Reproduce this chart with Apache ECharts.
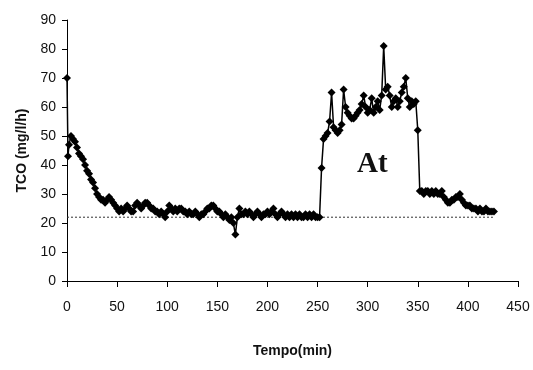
<!DOCTYPE html>
<html>
<head>
<meta charset="utf-8">
<script src="https://cdn.jsdelivr.net/npm/echarts@6/dist/echarts.min.js"></script>
<style>html,body{margin:0;padding:0;background:#fff}#c{width:533px;height:370px}</style>
</head>
<body>
<div id="c"></div>
<script>
var xTicks = [0, 50, 100, 150, 200, 250, 300, 350, 400, 450];
var yTicks = [0, 10, 20, 30, 40, 50, 60, 70, 80, 90];
var times = [0,1,2,4,6,8,10,12,14,16,18,20,22,24,26,28,30,32,34,36,38,40,42,44,46,48,50,52,54,56,58,60,62,64,66,68,70,72,74,76,78,80,82,84,86,88,90,92,94,96,98,100,102,104,106,108,110,112,114,116,118,120,122,124,126,128,130,132,134,136,138,140,142,144,146,148,150,152,154,156,158,160,162,164,166,168,170,172,174,176,178,180,182,184,186,188,190,192,194,196,198,200,202,204,206,208,210,212,214,216,218,220,222,224,226,228,230,232,234,236,238,240,242,244,246,248,250,252,254,256,258,260,262,264,266,268,270,272,274,276,278,280,282,284,286,288,290,292,294,296,298,300,302,304,306,308,310,312,314,316,318,320,322,324,326,328,330,332,334,336,338,340,342,344,346,348,350,352,354,356,358,360,362,364,366,368,370,372,374,376,378,380,382,384,386,388,390,392,394,396,398,400,402,404,406,408,410,412,414,416,418,420,422,424,426];
var tco = [70,43,47,50,49,48,46,44,43,42,40,38,37,35,34,32,30,29,28,28,27,28,29,28,27,26,25,24,25,24,25,26,25,24,24,26,27,26,25,26,27,27,26,25,25,24,24,23,24,23,22,24,26,25,24,25,24,25,25,24,24,23,24,23,23,24,23,22,23,23,24,25,25,26,26,25,24,24,23,22,23,22,21,22,20,16,22,25,23,23,24,23,24,23,22,23,24,23,22,23,23,24,23,24,25,23,22,23,24,23,22,23,22,23,22,23,22,23,22,22,23,22,23,22,23,22,22,22,39,49,50,51,55,65,53,52,51,52,54,66,60,58,57,56,56,57,58,59,61,64,60,58,59,63,58,60,62,59,64,81,66,67,64,60,62,63,60,62,65,67,70,63,60,62,61,62,52,31,31,30,31,31,30,31,30,31,30,30,31,29,28,27,27,28,28,29,29,30,28,27,26,26,26,25,25,25,24,25,24,24,25,24,24,24,24];
var baseT = [0, 425];
var baseV = [22, 22];

var chart = echarts.init(document.getElementById('c'), null, {renderer: 'canvas'});
var font = '"Liberation Sans Narrow", "Liberation Sans", Arial, sans-serif';
chart.setOption({
  animation: false,
  backgroundColor: '#fff',
  grid: {left: 67, right: 15, top: 20, bottom: 89},
  xAxis: {
    type: 'value', min: xTicks[0], max: xTicks[xTicks.length - 1], interval: 50,
    name: 'Tempo(min)', nameLocation: 'middle', nameGap: 63,
    nameTextStyle: {fontFamily: font, fontWeight: 'bold', fontSize: 14, color: '#111'},
    axisLine: {lineStyle: {color: '#000', width: 1}},
    axisTick: {show: true, inside: false, length: 6, lineStyle: {color: '#000'}},
    axisLabel: {margin: 19, fontFamily: font, fontSize: 14, color: '#111'},
    splitLine: {show: false}
  },
  yAxis: {
    type: 'value', min: yTicks[0], max: yTicks[yTicks.length - 1], interval: 10,
    name: 'TCO (mg/l/h)', nameLocation: 'middle', nameGap: 37,
    nameTextStyle: {fontFamily: font, fontWeight: 'bold', fontSize: 14, color: '#111'},
    axisLine: {show: true, lineStyle: {color: '#000', width: 1}},
    axisTick: {show: true, inside: false, length: 5, lineStyle: {color: '#000'}},
    axisLabel: {margin: 11, fontFamily: font, fontSize: 14, color: '#111'},
    splitLine: {show: false}
  },
  series: [
    {
      type: 'line', data: baseT.map(function (t, i) { return [t, baseV[i]]; }),
      symbol: 'none', lineStyle: {color: '#333', width: 1, type: [2, 2]}, silent: true, z: 1
    },
    {
      type: 'line', data: times.map(function (t, i) { return [t, tco[i]]; }),
      symbol: 'diamond', symbolSize: 8, itemStyle: {color: '#000'},
      lineStyle: {color: '#000', width: 1.5}, z: 2
    }
  ],
  graphic: [{
    type: 'text', left: 357, top: 150,
    style: {text: 'At', font: 'bold 29px "Liberation Serif", "Times New Roman", serif', fill: '#111'}
  }]
});
</script>
</body>
</html>
